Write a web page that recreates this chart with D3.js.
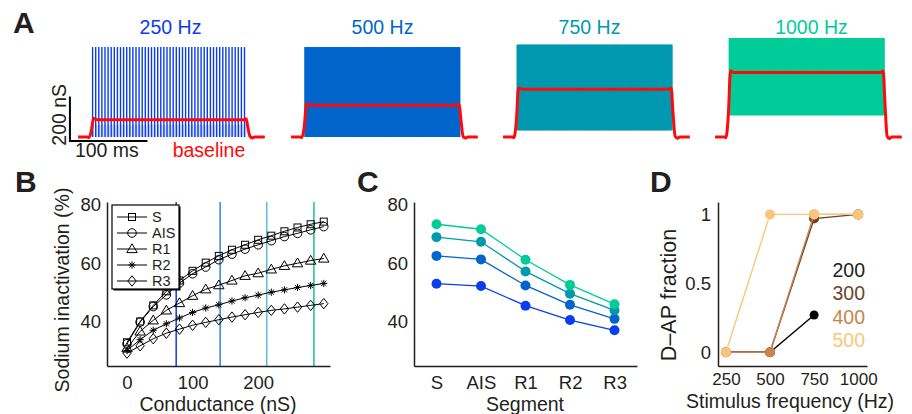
<!DOCTYPE html>
<html>
<head>
<meta charset="utf-8">
<script src="https://cdn.jsdelivr.net/npm/d3@7"></script>
<style>
  html, body { margin: 0; padding: 0; background: #fff; }
  svg { display: block; }
  text { font-family: "Liberation Sans", Arial, Helvetica, sans-serif; fill: #231f20; }
</style>
</head>
<body>
<svg id="fig" width="912" height="414"></svg>
<script>
// ---------- Panel A: stimulus trains ----------
const trainFreqs = [250, 500, 750, 1000];                 // Hz
const trainTitles = ["250 Hz", "500 Hz", "750 Hz", "1000 Hz"];
const trainColors = ["#0b3ded", "#0066cc", "#0099b0", "#00cc99"];
const trainPeak = [405, 405, 416, 446];                   // nS
const trainTrough = [0, 0, 30, 98];                       // nS
const trainDuration = 200;                                // ms

// red "baseline" conductance traces (time in ms, conductance in nS)
const baseT = [-18, -6, -4, -1, 2, 4, 8, 196, 199, 201, 204, 207, 210, 223];
const baseG250 = [0, 0, -3, 25, 84, 81, 78, 78, 82, 45, 2, -4, 0, 0];
const baseG500 = [0, 0, -3, 45, 150, 146, 143, 143, 148, 85, 3, -5, 0, 0];
const baseG750 = [0, 0, -3, 65, 222, 218, 215, 215, 221, 125, 4, -6, 0, 0];
const baseG1000 = [0, 0, -3, 90, 298, 293, 290, 290, 297, 170, 5, -7, 0, 0];
const baseGs = [baseG250, baseG500, baseG750, baseG1000];

// ---------- Panel B: inactivation vs conductance ----------
const conductance = [0, 20, 40, 60, 80, 100, 120, 140, 160, 180, 200, 220, 240, 260, 280, 300];
const inactS   = [33.1, 40.2, 45.7, 50.5, 54.2, 57.5, 60.3, 62.6, 64.7, 66.4, 68.1, 69.5, 71.0, 72.3, 73.4, 74.3];
const inactAIS = [32.6, 40.0, 45.3, 49.3, 53.3, 56.5, 58.8, 61.3, 63.2, 64.9, 66.4, 67.8, 69.2, 70.3, 71.5, 72.6];
const inactR1  = [31.1, 36.8, 40.6, 44.0, 46.5, 49.0, 51.2, 52.6, 54.2, 55.8, 56.7, 58.0, 59.2, 60.1, 61.0, 61.7];
const inactR2  = [30.3, 34.0, 37.2, 39.4, 41.4, 43.3, 44.8, 45.9, 47.2, 48.3, 49.2, 50.2, 51.0, 51.8, 52.5, 53.2];
const inactR3  = [29.4, 31.9, 34.3, 36.2, 37.6, 38.9, 39.9, 40.8, 41.7, 42.5, 43.3, 44.0, 44.5, 45.1, 45.7, 46.3];
const segNames = ["S", "AIS", "R1", "R2", "R3"];
const segMarkers = ["square", "circle", "triangle", "asterisk", "diamond"];
const baselineG = [75, 142, 213, 285];                     // nS, one per stimulus frequency
const baselineLineColors = ["#1f45e6", "#3b8ee0", "#5cc0d6", "#22c89a"];

// ---------- Panel C: inactivation per segment ----------
const segInact250  = [53.1, 52.3, 45.6, 40.7, 37.2];
const segInact500  = [62.6, 61.4, 52.5, 45.9, 41.1];
const segInact750  = [69.0, 67.4, 57.3, 49.7, 44.0];
const segInact1000 = [73.4, 71.7, 61.3, 52.7, 46.1];

// ---------- Panel D: D-AP fraction ----------
const stimFreq = [250, 500, 750, 1000];
const dapLabels = ["200", "300", "400", "500"];
const dapColors = ["#000000", "#6b4428", "#c8834f", "#fcc57b"];
const dap200 = [0, 0, 0.27, null];
const dap300 = [0, 0, 0.97, 1];
const dap400 = [0, 0, 1, 1];
const dap500 = [0, 1, 1, 1];

const svg = d3.select("#fig");
const INK = "#231f20";
const FS = 19.5;

// layout of the four mini panels in A
const trainLeft = [92, 305, 517, 729];
const titleShift = [0, -1, -6, 4];

// panel letters
[["A", 13, 33], ["B", 15, 192], ["C", 357, 192], ["D", 650, 192]].forEach(([t, x, y]) => {
  svg.append("text").attr("x", x).attr("y", y).attr("font-size", 30).attr("font-weight", "bold").text(t);
});

// ===== Panel A =====
const gScaleA = d3.scaleLinear().domain([0, 200]).range([137, 137 - 44.4]);
trainFreqs.forEach((f, i) => {
  const tScale = d3.scaleLinear().domain([0, 100]).range([trainLeft[i], trainLeft[i] + 77.5]);
  const g = svg.append("g");
  const period = 1000 / f;
  const pulses = d3.range(0, trainDuration, period);
  const spacing = tScale(period) - tScale(0);
  const dense = spacing < 2.5;
  // fast-decaying tails near the trough (visible only on sparse trains)
  if (!dense) {
    g.selectAll("rect.tail").data(pulses).join("rect")
      .attr("x", t => tScale(t))
      .attr("width", spacing * 0.75)
      .attr("y", gScaleA(trainTrough[i] + 55))
      .attr("height", gScaleA(trainTrough[i]) - gScaleA(trainTrough[i] + 55))
      .attr("fill", trainColors[i]).attr("opacity", 0.22);
  }
  g.selectAll("line.pulse").data(pulses).join("line")
    .attr("x1", t => tScale(t) + 0.6).attr("x2", t => tScale(t) + 0.6)
    .attr("y1", gScaleA(trainTrough[i])).attr("y2", gScaleA(trainPeak[i]))
    .attr("stroke", trainColors[i])
    .attr("stroke-width", dense ? spacing + 1.2 : 1.4);
  // red baseline trace
  const pts = baseT.map((t, k) => [t, baseGs[i][k]]);
  g.append("path").datum(pts)
    .attr("d", d3.line().x(d => tScale(d[0])).y(d => gScaleA(d[1])).curve(d3.curveMonotoneX))
    .attr("fill", "none").attr("stroke", "#ff0a0a").attr("stroke-width", 3).attr("stroke-linejoin", "round");
  svg.append("text").attr("x", tScale(100) + 1 + titleShift[i]).attr("y", 34).attr("text-anchor", "middle")
    .attr("font-size", FS).style("fill", trainColors[i]).text(trainTitles[i]);
  if (i === 0) {
    // scale bars: 100 ms and 200 nS
    const y0 = gScaleA(-18), x0 = tScale(-28.5);
    g.append("path")
      .attr("d", `M${x0},${gScaleA(182)}V${y0}H${tScale(71.5)}`)
      .attr("fill", "none").attr("stroke", "#000").attr("stroke-width", 2);
    svg.append("text").attr("x", tScale(-28.5) + 5).attr("y", 157).attr("font-size", FS).text("100 ms");
    svg.append("text").attr("transform", `translate(${x0 - 4},${(gScaleA(182) + y0) / 2 - 4}) rotate(-90)`)
      .attr("text-anchor", "middle").attr("font-size", FS).text("200 nS");
    svg.append("text").attr("x", 209).attr("y", 157).attr("text-anchor", "middle")
      .attr("font-size", FS).style("fill", "#ff0a0a").text("baseline");
  }
});

// shared y scale for B and C
const yInact = d3.scaleLinear().domain([25, 81]).range([366, 202]);

function styleAxis(sel, fs) {
  sel.select(".domain").attr("stroke", INK).attr("stroke-width", 1.5);
  sel.selectAll("text").attr("font-size", fs || 18.5).style("fill", INK)
    .attr("font-family", '"Liberation Sans", Arial, Helvetica, sans-serif');
}

// ===== Panel B =====
const xB = d3.scaleLinear().domain([-30.5, 309.5]).range([107, 330]);
const bSeries = [inactS, inactAIS, inactR1, inactR2, inactR3];

// baseline conductance markers
svg.append("g").selectAll("line").data(baselineG).join("line")
  .attr("x1", d => xB(d)).attr("x2", d => xB(d))
  .attr("y1", yInact.range()[1]).attr("y2", yInact.range()[0])
  .attr("stroke", (d, i) => baselineLineColors[i]).attr("stroke-width", 1.6);

function drawMarker(sel, type) {
  if (type === "square") {
    sel.append("rect").attr("x", -3.5).attr("y", -3.5).attr("width", 7).attr("height", 7);
  } else if (type === "circle") {
    sel.append("circle").attr("r", 4.3);
  } else if (type === "triangle") {
    sel.append("path").attr("d", "M0,-5.2L5.2,3.6L-5.2,3.6Z");
  } else if (type === "diamond") {
    sel.append("path").attr("d", "M0,-5.2L4.2,0L0,5.2L-4.2,0Z");
  } else if (type === "asterisk") {
    sel.append("path").attr("d", "M0,-3.6V3.6M-3.6,0H3.6M-2.6,-2.6L2.6,2.6M-2.6,2.6L2.6,-2.6");
  }
  sel.selectAll("*").attr("fill", "none").attr("stroke", "#000").attr("stroke-width", 1);
}

const bLine = d3.line().x(d => xB(d[0])).y(d => yInact(d[1]));
bSeries.forEach((vals, si) => {
  const pts = conductance.map((c, k) => [c, vals[k]]);
  svg.append("path").datum(pts).attr("d", bLine)
    .attr("fill", "none").attr("stroke", "#000").attr("stroke-width", 1);
  svg.append("g").selectAll("g").data(pts).join("g")
    .attr("transform", d => `translate(${xB(d[0])},${yInact(d[1])})`)
    .each(function () { drawMarker(d3.select(this), segMarkers[si]); });
});

svg.append("g").attr("transform", "translate(107,0)")
  .call(d3.axisLeft(yInact).tickValues([40, 60, 80]).tickSize(0).tickPadding(6)).call(styleAxis);
svg.append("g").attr("transform", "translate(0,366)")
  .call(d3.axisBottom(xB).tickValues([0, 100, 200]).tickSize(0).tickPadding(10)).call(styleAxis);

// legend
const leg = svg.append("g");
leg.append("rect").attr("x", 113.5).attr("y", 206.5).attr("width", 67).attr("height", 84).attr("fill", "#000");
leg.append("rect").attr("x", 112).attr("y", 205).attr("width", 67).attr("height", 84)
  .attr("fill", "#fff").attr("stroke", "#000").attr("stroke-width", 1.2);
segNames.forEach((name, i) => {
  const y = 217 + i * 16;
  leg.append("line").attr("x1", 117).attr("x2", 147).attr("y1", y).attr("y2", y)
    .attr("stroke", "#000").attr("stroke-width", 1);
  const m = leg.append("g").attr("transform", `translate(132,${y})`);
  drawMarker(m, segMarkers[i]);
  leg.append("text").attr("x", 152).attr("y", y + 5).attr("font-size", 14.5).text(name);
});

svg.append("text").attr("transform", "translate(69,290) rotate(-90)").attr("text-anchor", "middle")
  .attr("font-size", FS).text("Sodium inactivation (%)");
svg.append("text").attr("x", 218).attr("y", 411).attr("text-anchor", "middle")
  .attr("font-size", FS).text("Conductance (nS)");

// ===== Panel C =====
const xC = d3.scalePoint().domain(segNames).range([436.5, 614.5]);
const cSeries = [segInact250, segInact500, segInact750, segInact1000];
cSeries.forEach((vals, i) => {
  const pts = segNames.map((s, k) => [s, vals[k]]);
  svg.append("path").datum(pts)
    .attr("d", d3.line().x(d => xC(d[0])).y(d => yInact(d[1])))
    .attr("fill", "none").attr("stroke", trainColors[i]).attr("stroke-width", 1.3);
  svg.append("g").selectAll("circle").data(pts).join("circle")
    .attr("cx", d => xC(d[0])).attr("cy", d => yInact(d[1])).attr("r", 5)
    .attr("fill", trainColors[i]);
});
const xCaxis = d3.scaleLinear().domain([-0.5, 4.5]).range([414, 637]);
svg.append("g").attr("transform", "translate(414,0)")
  .call(d3.axisLeft(yInact).tickValues([40, 60, 80]).tickSize(0).tickPadding(6)).call(styleAxis);
svg.append("g").attr("transform", "translate(0,366)")
  .call(d3.axisBottom(xCaxis).tickValues([0, 1, 2, 3, 4]).tickFormat(i => segNames[i]).tickSize(0).tickPadding(10))
  .call(styleAxis);
svg.append("text").attr("x", 525).attr("y", 411).attr("text-anchor", "middle")
  .attr("font-size", FS).text("Segment");

// ===== Panel D =====
const xD = d3.scaleLinear().domain([205, 1050]).range([718, 867]);
const yD = d3.scaleLinear().domain([-0.1, 1.09]).range([366, 202]);
const dSeries = [dap200, dap300, dap400, dap500];
dSeries.forEach((vals, i) => {
  const pts = stimFreq.map((f, k) => [f, vals[k]]).filter(d => d[1] !== null);
  svg.append("path").datum(pts)
    .attr("d", d3.line().x(d => xD(d[0])).y(d => yD(d[1])))
    .attr("fill", "none").attr("stroke", dapColors[i]).attr("stroke-width", 1.4);
  svg.append("g").selectAll("circle").data(pts).join("circle")
    .attr("cx", d => xD(d[0])).attr("cy", d => yD(d[1])).attr("r", i === 0 ? 4.5 : 5)
    .attr("fill", dapColors[i]);
  svg.append("text").attr("x", 865).attr("y", 277 + i * 23.4).attr("text-anchor", "end")
    .attr("font-size", FS).style("fill", i === 0 ? "#222" : dapColors[i]).text(dapLabels[i]);
});
svg.append("g").attr("transform", "translate(718,0)")
  .call(d3.axisLeft(yD).tickValues([0, 0.5, 1]).tickFormat(d3.format("~g")).tickSize(0).tickPadding(7))
  .call(styleAxis);
svg.append("g").attr("transform", "translate(0,366)")
  .call(d3.axisBottom(xD).tickValues(stimFreq).tickFormat(d3.format("d")).tickSize(0).tickPadding(7))
  .call(s => styleAxis(s, 17));
svg.append("text").attr("transform", "translate(676,295) rotate(-90)").attr("text-anchor", "middle")
  .attr("font-size", 21.5).text("D\u2013AP fraction");
svg.append("text").attr("x", 790).attr("y", 408).attr("text-anchor", "middle")
  .attr("font-size", FS).text("Stimulus frequency (Hz)");
</script>
</body>
</html>
